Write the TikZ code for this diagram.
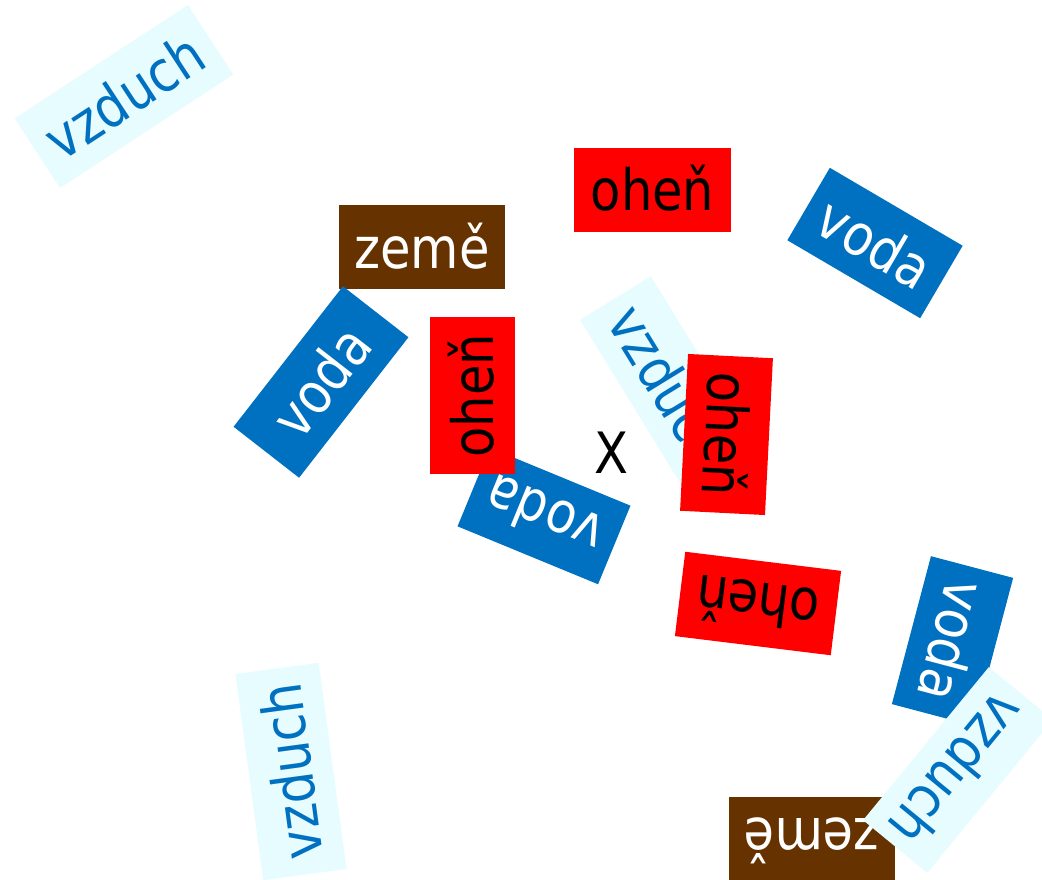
\documentclass[tikz,border=0pt]{standalone}
\usepackage{fontspec}
\newfontfamily\boxfont[FakeStretch=0.87]{DejaVu Sans}
\definecolor{vblue}{RGB}{0,112,192}
\definecolor{fred}{RGB}{255,0,0}
\definecolor{zbrown}{RGB}{102,51,0}
\definecolor{acyan}{RGB}{230,252,255}
\tikzset{
  tile/.style={inner sep=0pt, text height=42pt, text depth=0pt,
    font={\boxfont\fontsize{57}{60}\selectfont}, anchor=center},
  vodabox/.style={tile, fill=vblue, text=white},
  ohenbox/.style={tile, fill=fred, text=black},
  zemebox/.style={tile, fill=zbrown, text=white},
  vzduchbox/.style={tile, fill=acyan, text=vblue},
}
\begin{document}
\begin{tikzpicture}[x=1pt,y=-1pt]
\useasboundingbox (0,0) rectangle (1042,880);
\clip (0,0) rectangle (1042,880);
\fill[white] (0,0) rectangle (1042,880);
\node[vzduchbox, minimum width=207pt, minimum height=83pt, rotate=33.2] (vz1) at (124,96.5) {vzduch};
\node[zemebox, minimum width=166pt, minimum height=84pt] (ze1) at (422,247) {země};
\node[ohenbox, minimum width=157pt, minimum height=84pt] (oh1) at (652.5,190) {oheň};
\node[vodabox, minimum width=154pt, minimum height=84pt, rotate=-30.4] (vo1) at (875,243) {voda};
\node[vodabox, minimum width=178pt, minimum height=83pt, rotate=52.1] (vo2) at (321,382) {voda};
\node[vzduchbox, minimum width=207pt, minimum height=83pt, rotate=-58.5] (vz2) at (669.6,386.3) {vzduch};
\node[vodabox, minimum width=152pt, minimum height=85pt, rotate=157.6] (vo3) at (544,516) {voda};
\node[ohenbox, minimum width=157pt, minimum height=85pt, rotate=90] (oh2) at (472.5,395.5) {oheň};
\node[ohenbox, minimum width=157pt, minimum height=85pt, rotate=-92.9] (oh3) at (726.5,434.5) {oheň};
\node[tile, text=black] (xx) at (611,452) {X};
\node[ohenbox, minimum width=157pt, minimum height=85pt, rotate=173] (oh4) at (758,603.5) {oheň};
\node[vodabox, minimum width=153pt, minimum height=85pt, rotate=-104.8] (vo4) at (952.5,641) {voda};
\node[zemebox, minimum width=166pt, minimum height=84pt, rotate=180] (ze2) at (812,839) {země};
\node[vzduchbox, minimum width=208pt, minimum height=84pt, rotate=97.7] (vz3) at (291,771.5) {vzduch};
\node[vzduchbox, minimum width=198pt, minimum height=83pt, rotate=-129.4] (vz4) at (958,770) {vzduch};
\end{tikzpicture}
\end{document}
